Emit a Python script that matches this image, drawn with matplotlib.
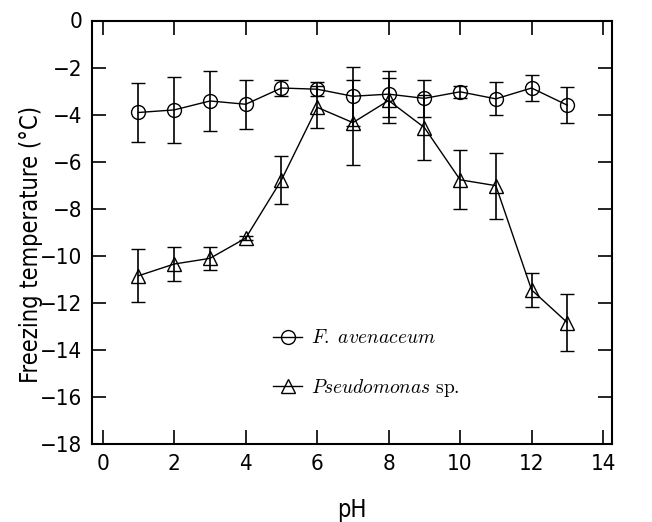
import matplotlib
matplotlib.use('Agg')
import matplotlib.pyplot as plt

# data
ph = [1, 2, 3, 4, 5, 6, 7, 8, 9, 10, 11, 12, 13]

fus_temp = [-3.91, -3.80, -3.42, -3.56, -2.87, -2.92, -3.22, -3.13, -3.31, -3.03, -3.33, -2.87, -3.60]
fus_err = [1.27, 1.40, 1.26, 1.05, 0.33, 0.30, 1.25, 0.97, 0.80, 0.25, 0.70, 0.55, 0.77]

pse_temp = [-10.85, -10.35, -10.11, -9.25, -6.78, -3.69, -4.34, -3.40, -4.55, -6.77, -7.02, -11.45, -12.84]
pse_err = [1.12, 0.72, 0.50, 0.10, 1.00, 0.90, 1.80, 0.95, 1.40, 1.26, 1.40, 0.71, 1.20]

plt.rcParams['font.family'] = ['DejaVu Sans']
plt.rcParams['font.stretch'] = 'condensed'
plt.rcParams['mathtext.fontset'] = 'cm'

fig = plt.figure(figsize=(6.52, 5.22), dpi=100)
ax = fig.add_axes([92 / 652, 1 - 444 / 522, 520 / 652, 423.5 / 522])

style = dict(color='black', lw=1.0, ecolor='black', elinewidth=1.2,
             capsize=5, capthick=1.2, markersize=10,
             markerfacecolor='none', markeredgecolor='black', markeredgewidth=1.0)

eb1 = ax.errorbar(ph, fus_temp, yerr=fus_err, marker='o', **style)
eb2 = ax.errorbar(ph, pse_temp, yerr=pse_err, marker='^', **style)

ax.set_xlim(-0.3, 14.25)
ax.set_ylim(-18, 0)
ax.set_xticks(range(0, 15, 2))
ax.set_yticks(range(-18, 1, 2))

ax.tick_params(direction='in', length=10, width=1.2, top=True, right=True,
               labelsize=16, pad=7)
for s in ax.spines.values():
    s.set_linewidth(1.5)

ax.set_xlabel('pH', fontsize=17)
ax.xaxis.set_label_coords(0.5, -0.128)
ax.set_ylabel('Freezing temperature (°C)', fontsize=17)
ax.yaxis.set_label_coords(-0.094, 0.472)

ax.legend([eb1[0], eb2[0]],
          [r'$\mathit{F.\ avenaceum}$', r'$\mathit{Pseudomonas}\ \mathrm{sp.}$'],
          loc='center left', bbox_to_anchor=(0.348, 0.19), frameon=False,
          borderpad=0, borderaxespad=0, handlelength=1.5, handletextpad=0.45,
          labelspacing=1.5, prop={'size': 14})

fig.savefig('out.png', dpi=100)
